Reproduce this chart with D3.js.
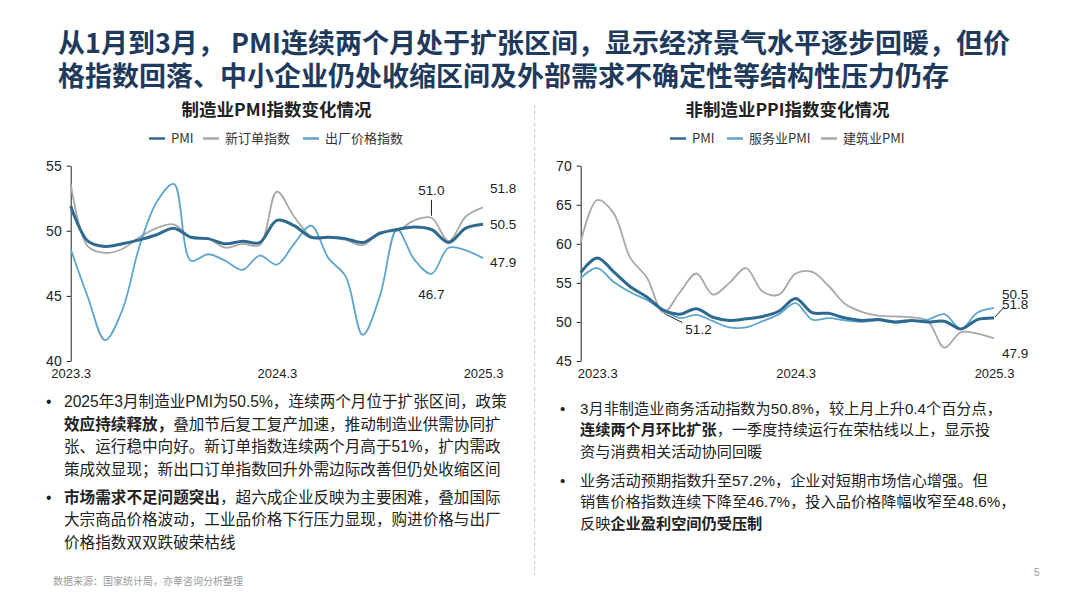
<!DOCTYPE html>
<html><head><meta charset="utf-8">
<script src="https://cdn.jsdelivr.net/npm/d3@7"></script>
<style>
html,body{margin:0;padding:0;background:#fff;}
svg{display:block;}
text{font-family:"Liberation Sans","Noto Sans CJK SC",Arial,sans-serif;}
.cjk{font-family:"Noto Sans CJK SC","Liberation Sans",sans-serif;}
</style></head>
<body>
<svg id="c" width="1067" height="600"></svg>
<script>
// ---------- Data ----------
const monthsL = ["2023.3","2023.4","2023.5","2023.6","2023.7","2023.8","2023.9","2023.10","2023.11","2023.12","2024.1","2024.2","2024.3","2024.4","2024.5","2024.6","2024.7","2024.8","2024.9","2024.10","2024.11","2024.12","2025.1","2025.2","2025.3"];
const pmiL      = [51.9,49.2,48.8,49.0,49.3,49.7,50.2,49.5,49.4,49.0,49.2,49.1,50.8,50.4,49.5,49.5,49.4,49.1,49.8,50.1,50.3,50.1,49.1,50.2,50.5];
const newOrders = [53.6,48.8,48.3,48.6,49.5,50.2,50.5,49.5,49.4,48.7,49.0,48.9,53.0,51.1,49.6,49.5,49.3,48.9,49.9,50.0,50.8,51.0,49.2,51.1,51.8];
const outPrice  = [48.6,44.9,41.6,43.9,48.8,52.2,53.6,47.7,48.2,47.7,47.0,48.1,47.4,49.0,50.4,47.9,46.5,42.0,45.0,50.1,47.8,46.7,48.7,48.5,47.9];
const xTicksL   = ["2023.3","2024.3","2025.3"];
const yTicksL   = [40,45,50,55];

const monthsR   = ["2023.2","2023.3","2023.4","2023.5","2023.6","2023.7","2023.8","2023.9","2023.10","2023.11","2023.12","2024.1","2024.2","2024.3","2024.4","2024.5","2024.6","2024.7","2024.8","2024.9","2024.10","2024.11","2024.12","2025.1","2025.2","2025.3"];
const pmiR      = [56.3,58.2,56.4,54.5,53.2,51.5,51.0,51.7,50.6,50.2,50.4,50.7,51.4,53.0,51.2,51.1,50.5,50.2,50.3,50.0,50.2,50.0,50.1,49.1,50.3,50.5];
const servR     = [55.6,56.9,55.1,53.8,52.8,51.5,50.5,50.9,50.1,49.3,49.3,50.1,51.0,52.4,50.3,50.5,50.2,50.0,50.2,49.9,50.1,50.3,51.0,49.1,51.2,51.8];
const consR     = [60.2,65.6,63.9,58.2,55.7,51.2,53.8,56.2,53.5,55.0,56.9,53.9,53.5,56.2,56.4,54.6,52.3,51.3,50.8,50.7,50.6,50.1,46.7,48.7,48.5,47.9];
const xTicksR   = ["2023.3","2024.3","2025.3"];
const yTicksR   = [45,50,55,60,65,70];

const titleLines = ["从1月到3月， PMI连续两个月处于扩张区间，显示经济景气水平逐步回暖，但价",
                    "格指数回落、中小企业仍处收缩区间及外部需求不确定性等结构性压力仍存"];
const leftBullets = [
  [[["2025年3月制造业PMI为50.5%，连续两个月位于扩张区间，政策",0]],
   [["效应持续释放，",1],["叠加节后复工复产加速，推动制造业供需协同扩",0]],
   [["张、运行稳中向好。新订单指数连续两个月高于51%，扩内需政",0]],
   [["策成效显现；新出口订单指数回升外需边际改善但仍处收缩区间",0]]],
  [[["市场需求不足问题突出",1],["，超六成企业反映为主要困难，叠加国际",0]],
   [["大宗商品价格波动，工业品价格下行压力显现，购进价格与出厂",0]],
   [["价格指数双双跌破荣枯线",0]]]
];
const rightBullets = [
  [[["3月非制造业商务活动指数为50.8%，较上月上升0.4个百分点，",0]],
   [["连续两个月环比扩张",1],["，一季度持续运行在荣枯线以上，显示投",0]],
   [["资与消费相关活动协同回暖",0]]],
  [[["业务活动预期指数升至57.2%，企业对短期市场信心增强。但",0]],
   [["销售价格指数连续下降至46.7%，投入品价格降幅收窄至48.6%，",0]],
   [["反映",0],["企业盈利空间仍受压制",1]]]
];

// ---------- Styles ----------
const C_DARK = "#2E6A90", C_LIGHT = "#5DA5CD", C_GRAY = "#A8A8A8";
const svg = d3.select("#c");

// Title
svg.append("g").selectAll("text").data(titleLines).join("text")
  .attr("class","cjk").attr("x",58).attr("y",(d,i)=>52.5+i*33)
  .attr("font-size",27).attr("font-weight","bold").attr("fill","#1E3A5C")
  .text(d=>d);

// Divider
svg.append("line").attr("x1",534.5).attr("x2",534.5).attr("y1",105).attr("y2",575)
  .attr("stroke","#c8c8c8").attr("stroke-width",1).attr("stroke-dasharray","3,3");

function chart(cfg){
  const g = svg.append("g");
  const x = d3.scalePoint().domain(cfg.months).range(cfg.xr);
  const y = d3.scaleLinear().domain(cfg.yd).range([361,165.7]);
  // title
  g.append("text").attr("class","cjk").attr("x",cfg.cx).attr("y",116).attr("text-anchor","middle")
    .attr("font-size",17.5).attr("font-weight","bold").attr("fill","#222").text(cfg.title);
  // legend
  const lg = g.append("g");
  cfg.legend.forEach(l=>{
    lg.append("line").attr("x1",l.x).attr("x2",l.x+16).attr("y1",138.5).attr("y2",138.5)
      .attr("stroke",l.c).attr("stroke-width",2.5);
    lg.append("text").attr("class","cjk").attr("x",l.x+22).attr("y",143).attr("font-size",13)
      .attr("fill","#333").text(l.t);
  });
  // y axis
  const ya = g.append("g").attr("transform",`translate(${cfg.xr[0]},0)`)
    .call(d3.axisLeft(y).tickValues(cfg.yTicks).tickSize(4).tickSizeOuter(0).tickPadding(5));
  ya.select(".domain").attr("stroke","#222");
  ya.selectAll(".tick line").attr("stroke","#222");
  ya.selectAll("text").attr("font-size",14).attr("fill","#222").attr("font-family","Liberation Sans, Arial, sans-serif");
  // x axis labels
  const xa = g.append("g").attr("transform","translate(0,361)")
    .call(d3.axisBottom(x).tickValues(cfg.xTicks).tickSize(0).tickPadding(8));
  xa.select(".domain").remove();
  xa.selectAll("text").attr("font-size",13).attr("fill","#222").attr("font-family","Liberation Sans, Arial, sans-serif");
  // lines
  const line = d3.line().x((d,i)=>x(cfg.months[i])).y(d=>y(d)).curve(d3.curveCatmullRom.alpha(0.5));
  cfg.series.forEach(s=>{
    g.append("path").datum(s.v).attr("d",line).attr("fill","none")
      .attr("stroke",s.c).attr("stroke-width",s.w).attr("stroke-linejoin","round");
  });
  return {x,y};
}

const L = chart({
  months:monthsL, xr:[70.7,483], yd:[40,55], yTicks:yTicksL, xTicks:xTicksL, cx:276.5,
  title:"制造业PMI指数变化情况",
  legend:[{x:149,c:C_DARK,t:"PMI"},{x:203,c:C_GRAY,t:"新订单指数"},{x:303,c:C_LIGHT,t:"出厂价格指数"}],
  series:[{v:newOrders,c:C_GRAY,w:1.8},{v:outPrice,c:C_LIGHT,w:1.8},{v:pmiL,c:C_DARK,w:3}]
});
// annotations left (positions from scale)
(function(){
  const g = svg.append("g").attr("font-family","Liberation Sans, Arial, sans-serif").attr("font-size",13.5).attr("fill","#222");
  const xd = L.x("2024.12"), xe = L.x("2025.3");
  g.append("text").attr("x",xd).attr("y",L.y(newOrders[21])-23).attr("text-anchor","middle").text(newOrders[21].toFixed(1));
  g.append("line").attr("x1",xd).attr("x2",xd).attr("y1",L.y(newOrders[21])-18).attr("y2",L.y(newOrders[21])-2).attr("stroke","#222");
  g.append("text").attr("x",xd).attr("y",L.y(outPrice[21])+25).attr("text-anchor","middle").text(outPrice[21].toFixed(1));
  g.append("text").attr("x",xe+7).attr("y",193).text(newOrders[24].toFixed(1));
  g.append("text").attr("x",xe+7).attr("y",229).text(pmiL[24].toFixed(1));
  g.append("text").attr("x",xe+7).attr("y",267).text(outPrice[24].toFixed(1));
})();

const R = chart({
  months:monthsR, xr:[580.7,994], yd:[45,70], yTicks:yTicksR, xTicks:xTicksR, cx:787.5,
  title:"非制造业PPI指数变化情况",
  legend:[{x:670,c:C_DARK,t:"PMI"},{x:727,c:C_LIGHT,t:"服务业PMI"},{x:821,c:C_GRAY,t:"建筑业PMI"}],
  series:[{v:consR,c:C_GRAY,w:1.8},{v:servR,c:C_LIGHT,w:1.8},{v:pmiR,c:C_DARK,w:3}]
});
(function(){
  const g = svg.append("g").attr("font-family","Liberation Sans, Arial, sans-serif").attr("font-size",13.5).attr("fill","#222");
  const x5 = R.x("2023.7"), xe = R.x("2025.3");
  g.append("line").attr("x1",x5+1).attr("y1",R.y(consR[5])+1).attr("x2",x5+19).attr("y2",R.y(consR[5])+10).attr("stroke","#222");
  g.append("text").attr("x",x5+22).attr("y",R.y(consR[5])+21).text(consR[5].toFixed(1));
  g.append("text").attr("x",xe+8).attr("y",299).text(pmiL[24].toFixed(1));
  g.append("line").attr("x1",xe+1).attr("y1",R.y(pmiR[25])-1).attr("x2",xe+10).attr("y2",R.y(pmiR[25])-11).attr("stroke","#222");
  g.append("text").attr("x",xe+8).attr("y",309).text(servR[25].toFixed(1));
  g.append("text").attr("x",xe+8).attr("y",358).text(consR[25].toFixed(1));
})();

// Bullets
function bullets(data, xb, xt, ys, fs){
  const g = svg.append("g").attr("class","cjk").attr("font-size",fs).attr("fill","#222");
  let k=0;
  data.forEach((para,pi)=>{
    para.forEach((ln,li)=>{
      const yy = ys[k++];
      if(li===0) g.append("text").attr("x",xb).attr("y",yy).attr("font-size",fs).text("•");
      const t = g.append("text").attr("x",xt).attr("y",yy);
      ln.forEach(seg=>t.append("tspan").attr("font-weight",seg[1]?"bold":"normal").text(seg[0]));
    });
  });
}
bullets(leftBullets, 46, 64, [407,429.5,452,474.5,502.5,525,547.5], 15.6);
bullets(rightBullets, 560, 580, [413.5,435,456.5,485.5,507,529], 15.2);

// Footer
svg.append("text").attr("class","cjk").attr("x",53).attr("y",585).attr("font-size",10).attr("fill","#9a9a9a")
  .text("数据来源：国家统计局，亦莘咨询分析整理");
svg.append("text").attr("x",1034).attr("y",576).attr("font-size",10).attr("fill","#9a9a9a").text("5");
</script>
</body></html>
